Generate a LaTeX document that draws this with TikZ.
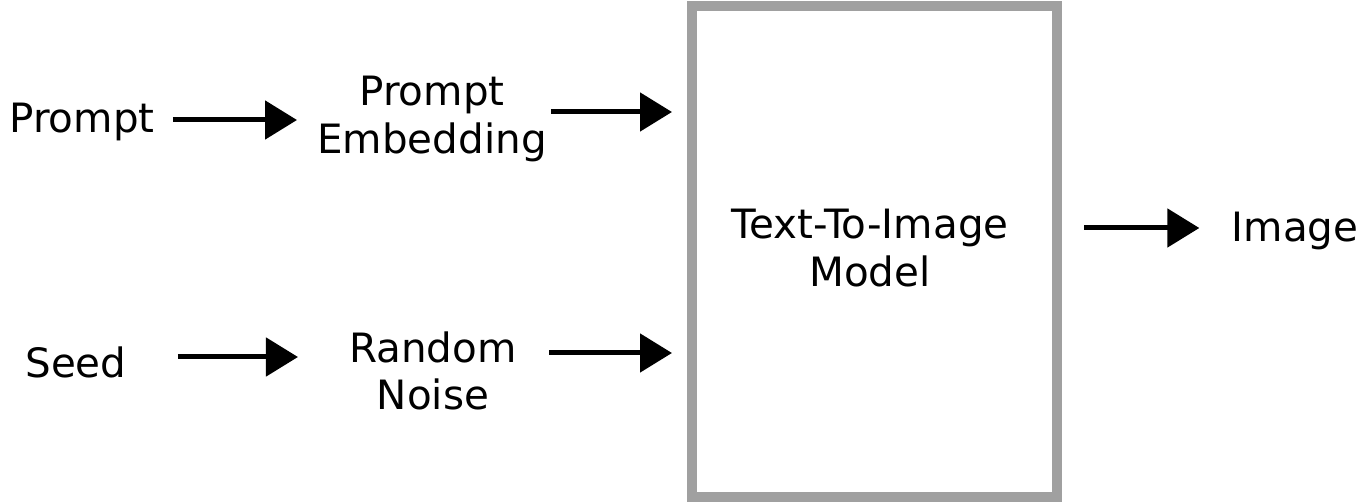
\documentclass[tikz,border=0pt]{standalone}
\usepackage{fontspec}
\setmainfont{DejaVu Sans}
\usetikzlibrary{arrows.meta,positioning,calc}
\definecolor{framegray}{RGB}{160,160,160}
\definecolor{ink}{RGB}{0,0,0}
\tikzset{
	flow/.style={-{Triangle[length=0.64cm,width=0.76cm]},line width=0.1cm,draw=ink},
	label/.style={align=center,text=ink,inner sep=0pt,font=\fontsize{23}{27}\selectfont},
	model/.style={draw=framegray,line width=0.2cm,fill=white,
		minimum width=7.3cm,minimum height=9.82cm,inner sep=0pt},
}
\begin{document}
\begin{tikzpicture}
		\useasboundingbox (0,0) rectangle (27.32,-10.08);
		
		\node[model] (t2i) at (17.49,-5.03) {};
		\node[label] (modeltxt) at (17.40,-4.96) {Text-To-Image\\Model};
		
		\node[label] (prompt) at (1.64,-2.44) {Prompt};
		\node[label] (embed) at (8.64,-2.38) {Prompt\\Embedding};
		\node[label] (seed) at (1.52,-7.24) {Seed};
		\node[label] (noise) at (8.66,-7.42) {Random\\Noise};
		\node[label] (image) at (25.90,-4.62) {Image};
		
		\draw[flow,shorten <=0.36cm,shorten >=0.40cm]
		([yshift=0.04cm]prompt.east) -- ([yshift=0.04cm]prompt.east -| embed.west);
		\draw[flow,shorten <=0.08cm,shorten >=0.30cm]
		([yshift=0.14cm]embed.east) -- ([yshift=0.14cm]embed.east -| t2i.west);
		\draw[flow,shorten <=1.02cm,shorten >=1.02cm]
		([yshift=0.1cm]seed.east) -- ([yshift=0.1cm]seed.east -| noise.west);
		\draw[flow,shorten <=0.64cm,shorten >=0.30cm]
		([yshift=0.36cm]noise.east) -- ([yshift=0.36cm]noise.east -| t2i.west);
		\draw[flow,shorten <=0.44cm,shorten >=0.64cm]
		([yshift=0.06cm]image.west -| t2i.east) -- ([yshift=0.06cm]image.west);
		
	\end{tikzpicture}
\end{document}
